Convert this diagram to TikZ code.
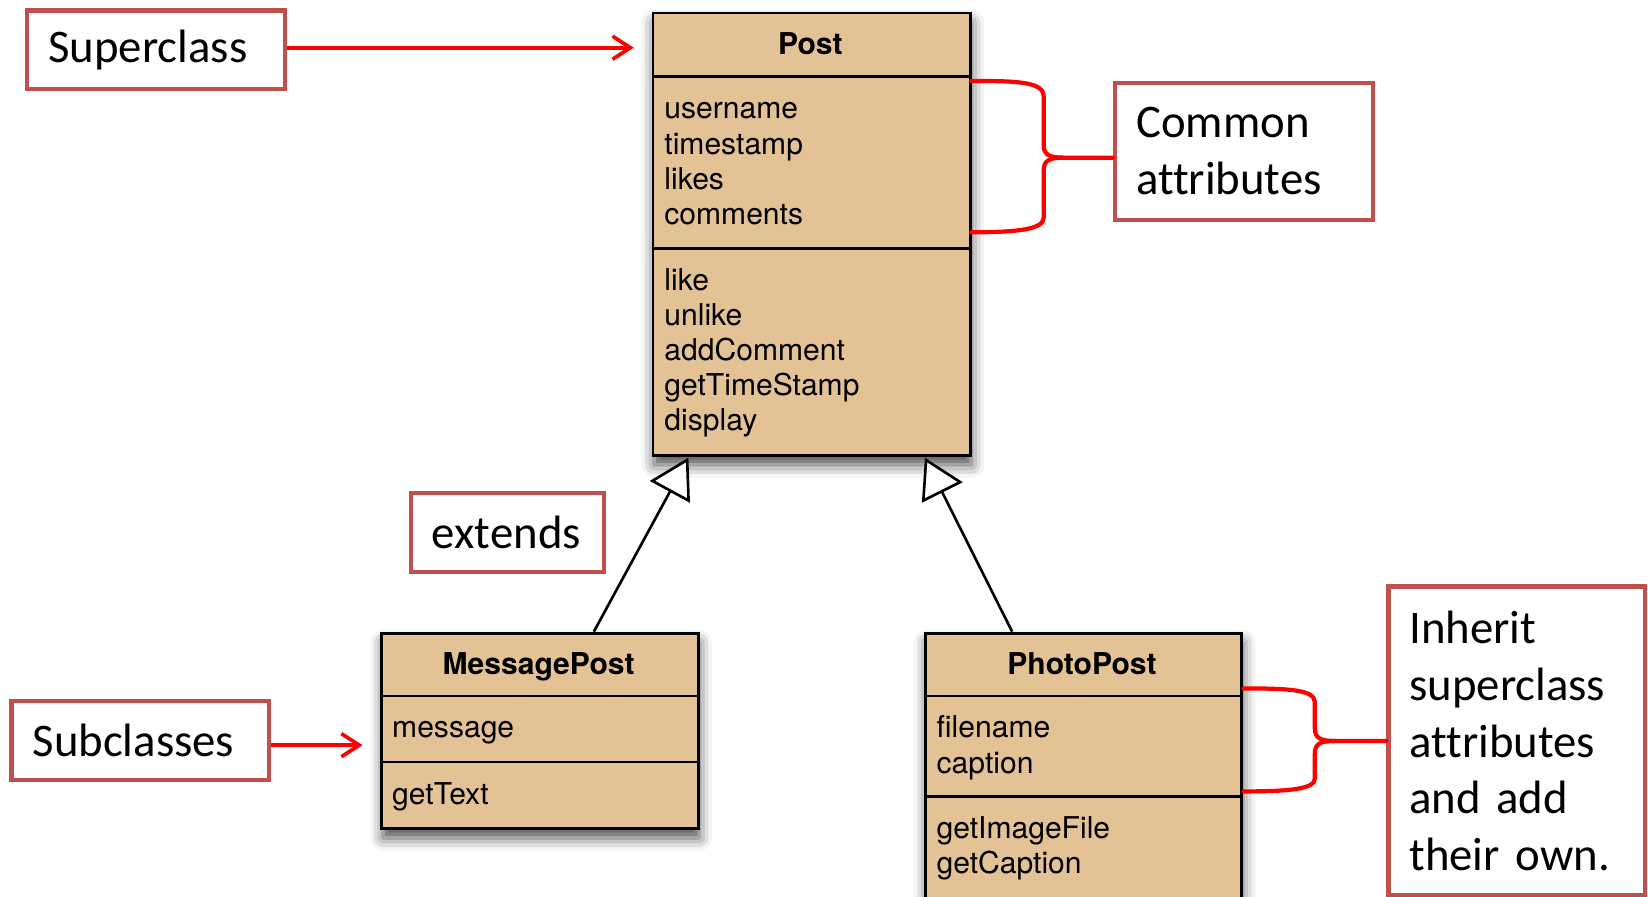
\documentclass[tikz,border=0pt]{standalone}
\usepackage{fontspec}
\setmainfont{Carlito}[Ligatures=NoCommon]
\newfontfamily\umlfont{TeX Gyre Heros}
\usetikzlibrary{arrows.meta,shadows.blur}
\definecolor{classfill}{RGB}{227,194,150}
\definecolor{noteborder}{RGB}{192,80,77}
\definecolor{markred}{RGB}{255,0,0}
\tikzset{
  classbox/.style={draw=black, line width=2.7pt, fill=classfill, rectangle,
    inner sep=0pt, anchor=north west,
    blur shadow={shadow xshift=1pt, shadow yshift=-9pt, shadow blur radius=12pt, shadow opacity=70}},
  divider/.style={line width=2.4pt},
  classname/.style={font=\umlfont\bfseries\fontsize{28.6}{33.5}\selectfont, anchor=base, inner sep=0pt},
  member/.style={font=\umlfont\fontsize{28.6}{33.5}\selectfont, anchor=base west, inner sep=0pt},
  note/.style={draw=noteborder, line width=4pt, fill=white, rectangle, anchor=north west,
    inner xsep=20pt, inner ysep=0pt, align=left, font=\fontsize{44.5}{54.2}\selectfont},
  pointer/.style={draw=markred, line width=3.5pt, -{Straight Barb[length=17pt,width=22pt]}},
  brace/.style={draw=markred, line width=4pt, line cap=round, line join=round},
  generalization/.style={line width=2.5pt, -{Triangle[length=37pt, width=43pt, fill=white]}},
}
\begin{document}
\begin{tikzpicture}[x=1pt, y=1pt]
\useasboundingbox (0,0) rectangle (1568,-853);
\clip (0,0) rectangle (1568,-853);

% ---- class Post ----
\node[classbox, minimum width=302pt, minimum height=421pt] (post) at (620,-11) {};
\draw[divider] ([yshift=-62pt]post.north west) -- ([yshift=-62pt]post.north east);
\draw[divider] ([yshift=-225.3pt]post.north west) -- ([yshift=-225.3pt]post.north east);
\node[classname] (postname) at (771,-51.4) {Post};
\node[member] (p1) at (632,-113) {username};
\node[member] (p2) at (632,-146.6) {timestamp};
\node[member] (p3) at (632,-180.4) {likes};
\node[member] (p4) at (632,-214) {comments};
\node[member] (p5) at (632,-276) {like};
\node[member] (p6) at (632,-309.4) {unlike};
\node[member] (p7) at (632,-342.8) {addComment};
\node[member] (p8) at (632,-376.2) {getTimeStamp};
\node[member] (p9) at (632,-409.6) {display};

% ---- class MessagePost ----
\node[classbox, minimum width=301pt, minimum height=186pt] (msg) at (362,-601) {};
\draw[divider] ([yshift=-61pt]msg.north west) -- ([yshift=-61pt]msg.north east);
\draw[divider] ([yshift=-124pt]msg.north west) -- ([yshift=-124pt]msg.north east);
\node[classname] (msgname) at (512.5,-641.4) {MessagePost};
\node[member] (m1) at (373,-702) {message};
\node[member] (m2) at (373,-765) {getText};

% ---- class PhotoPost ----
\node[classbox, minimum width=301pt, minimum height=300pt] (photo) at (879,-601) {};
\draw[divider] ([yshift=-61pt]photo.north west) -- ([yshift=-61pt]photo.north east);
\draw[divider] ([yshift=-157pt]photo.north west) -- ([yshift=-157pt]photo.north east);
\node[classname] (photoname) at (1029.5,-641.4) {PhotoPost};
\node[member] (f1) at (891,-702) {filename};
\node[member] (f2) at (891,-735.6) {caption};
\node[member] (f3) at (891,-798) {getImageFile};
\node[member] (f4) at (891,-831.4) {getCaption};

% ---- inheritance ----
\coordinate (msgjoin) at (565,-601);
\coordinate (postleft) at (655,-435.5);
\coordinate (photojoin) at (963,-601);
\coordinate (postright) at (880,-435.5);
\draw[generalization] (msgjoin) -- (postleft);
\draw[generalization] (photojoin) -- (postright);

% ---- notes ----
\node[note, minimum width=245pt, minimum height=75pt, text width=205pt] (super) at (24,-8) {Superclass};
\node[note, minimum width=245pt, minimum height=130pt, text width=205pt] (common) at (1059,-77) {Common\\attributes};
\node[note, minimum width=184pt, minimum height=75pt, text width=144pt] (extends) at (389,-467) {extends};
\node[note, minimum width=245pt, minimum height=75pt, text width=205pt] (sub) at (9,-665) {Subclasses};
\node[note, minimum width=244pt, minimum height=294pt, text width=204pt] (inherit) at (1319,-556) {Inherit\\superclass\\attributes\\and add\\their own.};

% ---- pointers ----
\coordinate (supertip) at (603,-45.4);
\coordinate (subtip) at (345,-709);
\draw[pointer] (super.east |- supertip) -- (supertip);
\draw[pointer] (sub.east |- subtip) -- (subtip);

% ---- braces ----
\draw[brace] (924,-77) .. controls (970,-77) and (993,-78) .. (993,-92) -- (993,-138)
  .. controls (993,-147) and (998,-150) .. (1012,-150) -- (common.west |- 0,-150);
\draw[brace] (1012,-150) .. controls (998,-150) and (993,-153) .. (993,-162) -- (993,-207)
  .. controls (993,-218) and (970,-221) .. (924,-221);
\draw[brace] (1183,-655) .. controls (1225,-655) and (1251,-656) .. (1251,-668) -- (1251,-693)
  .. controls (1251,-702) and (1256,-705) .. (1270,-705) -- (inherit.west |- 0,-705);
\draw[brace] (1270,-705) .. controls (1256,-705) and (1251,-708) .. (1251,-717) -- (1251,-741)
  .. controls (1251,-751) and (1225,-753) .. (1183,-753);
\end{tikzpicture}
\end{document}
